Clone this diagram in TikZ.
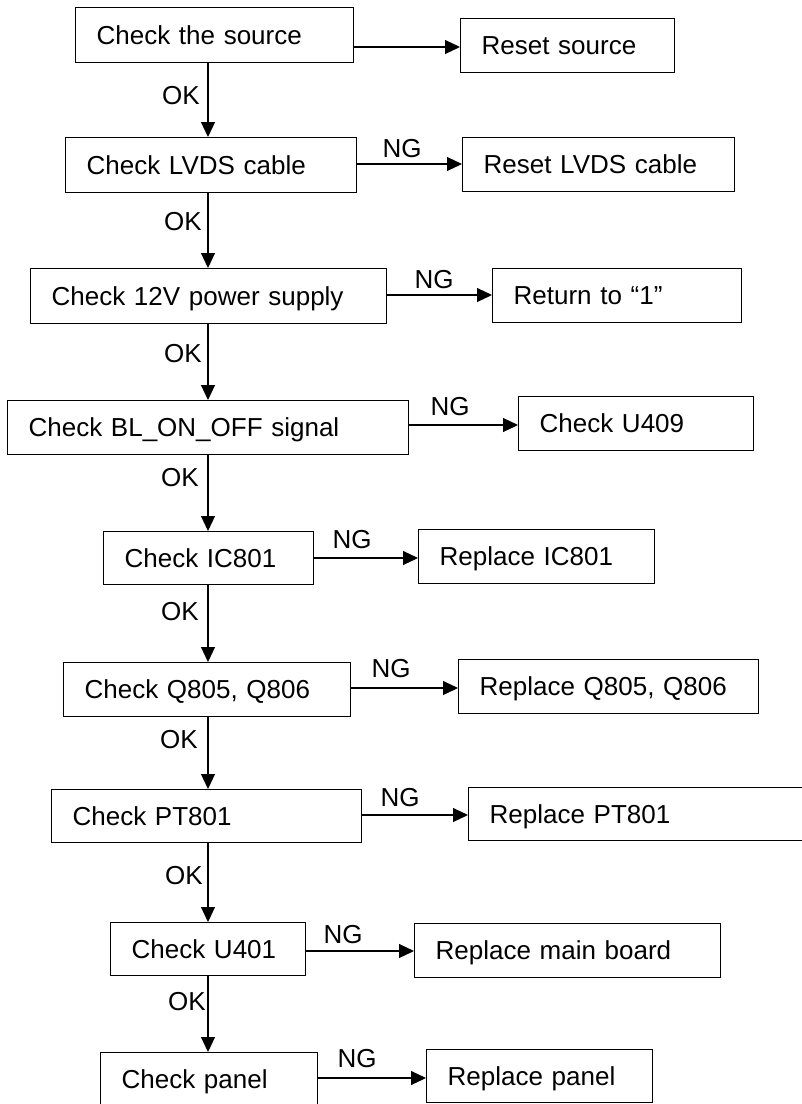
\documentclass[tikz,border=0pt]{standalone}
\usepackage{fontspec}
\setmainfont{Liberation Sans}
\usetikzlibrary{arrows.meta}
\tikzset{
  box/.style={draw, line width=1.3pt, anchor=north west, inner xsep=21pt, inner ysep=0pt,
    align=left, text height=18.6pt, text depth=0pt, font=\fontsize{26}{31}\selectfont},
  lbl/.style={inner sep=0pt, text height=18.6pt, text depth=0pt, font=\fontsize{26}{31}\selectfont},
  arr/.style={line width=1.1pt, -{Triangle[length=15pt,width=14pt]}}
}
\begin{document}
\begin{tikzpicture}[x=1pt,y=-1pt]
\useasboundingbox (0,0) rectangle (802,1104);
\clip (0,0) rectangle (802,1104);
% left column
\node[box, minimum width=278pt, text width=236pt, minimum height=55pt] (src) at (75,7) {Check the source};
\node[box, minimum width=291pt, text width=249pt, minimum height=55pt] (lvds) at (65,137) {Check LVDS cable};
\node[box, minimum width=356pt, text width=314pt, minimum height=55pt] (p12) at (30,268) {Check 12V power supply};
\node[box, minimum width=401pt, text width=359pt, minimum height=54pt] (bl) at (7,400) {Check BL\_ON\_OFF signal};
\node[box, minimum width=210pt, text width=168pt, minimum height=53pt] (ic) at (103,531) {Check IC801};
\node[box, minimum width=287pt, text width=245pt, minimum height=54pt] (q) at (63,662) {Check Q805, Q806};
\node[box, minimum width=310pt, text width=268pt, minimum height=53pt] (pt) at (51,789) {Check PT801};
\node[box, minimum width=195pt, text width=153pt, minimum height=53pt] (u401) at (110,922) {Check U401};
\node[box, minimum width=217pt, text width=175pt, minimum height=54pt] (panel) at (100,1052) {Check panel};
% right column
\node[box, minimum width=214pt, text width=172pt, minimum height=54pt] (rsrc) at (460,18) {Reset source};
\node[box, minimum width=272pt, text width=230pt, minimum height=54pt] (rlvds) at (462,137) {Reset LVDS cable};
\node[box, minimum width=249pt, text width=207pt, minimum height=54pt] (ret) at (492,268) {Return to “1”};
\node[box, minimum width=235pt, text width=193pt, minimum height=54pt] (u409) at (518,396) {Check U409};
\node[box, minimum width=236pt, text width=194pt, minimum height=54pt] (ric) at (418,529) {Replace IC801};
\node[box, minimum width=300pt, text width=258pt, minimum height=54pt] (rq) at (458,659) {Replace Q805, Q806};
\node[box, minimum width=340pt, text width=298pt, minimum height=53pt] (rpt) at (468,787) {Replace PT801};
\node[box, minimum width=306pt, text width=264pt, minimum height=54pt] (rmb) at (414,923) {Replace main board};
\node[box, minimum width=226pt, text width=184pt, minimum height=53pt] (rpanel) at (426,1049) {Replace panel};
% spine and rows
\coordinate (sp) at (208,0);
\coordinate (r1) at (0,47);
\coordinate (r2) at (0,164);
\coordinate (r3) at (0,295);
\coordinate (r4) at (0,425);
\coordinate (r5) at (0,558);
\coordinate (r6) at (0,688);
\coordinate (r7) at (0,815);
\coordinate (r8) at (0,951);
\coordinate (r9) at (0,1078);
% vertical connectors
\draw[arr] (src.south -| sp) -- (lvds.north -| sp);
\draw[arr] (lvds.south -| sp) -- (p12.north -| sp);
\draw[arr] (p12.south -| sp) -- (bl.north -| sp);
\draw[arr] (bl.south -| sp) -- (ic.north -| sp);
\draw[arr] (ic.south -| sp) -- (q.north -| sp);
\draw[arr] (q.south -| sp) -- (pt.north -| sp);
\draw[arr] (pt.south -| sp) -- (u401.north -| sp);
\draw[arr] (u401.south -| sp) -- (panel.north -| sp);
% horizontal connectors
\draw[arr] (src.east |- r1) -- (rsrc.west |- r1);
\draw[arr] (lvds.east |- r2) -- (rlvds.west |- r2);
\draw[arr] (p12.east |- r3) -- (ret.west |- r3);
\draw[arr] (bl.east |- r4) -- (u409.west |- r4);
\draw[arr] (ic.east |- r5) -- (ric.west |- r5);
\draw[arr] (q.east |- r6) -- (rq.west |- r6);
\draw[arr] (pt.east |- r7) -- (rpt.west |- r7);
\draw[arr] (u401.east |- r8) -- (rmb.west |- r8);
\draw[arr] (panel.east |- r9) -- (rpanel.west |- r9);
% OK labels
\node[lbl, anchor=east] (ok1) at (200,95) {OK};
\node[lbl, anchor=east] (ok2) at (202,221) {OK};
\node[lbl, anchor=east] (ok3) at (202,353) {OK};
\node[lbl, anchor=east] (ok4) at (199,477) {OK};
\node[lbl, anchor=east] (ok5) at (199,611) {OK};
\node[lbl, anchor=east] (ok6) at (198,739) {OK};
\node[lbl, anchor=east] (ok7) at (203,875) {OK};
\node[lbl, anchor=east] (ok8) at (206,1001) {OK};
% NG labels
\node[lbl] (ng2) at (402,148) {NG};
\node[lbl] (ng3) at (434,279) {NG};
\node[lbl] (ng4) at (450,406) {NG};
\node[lbl] (ng5) at (352,539) {NG};
\node[lbl] (ng6) at (391,668) {NG};
\node[lbl] (ng7) at (400,797) {NG};
\node[lbl] (ng8) at (343,934) {NG};
\node[lbl] (ng9) at (357,1058) {NG};
\end{tikzpicture}
\end{document}
